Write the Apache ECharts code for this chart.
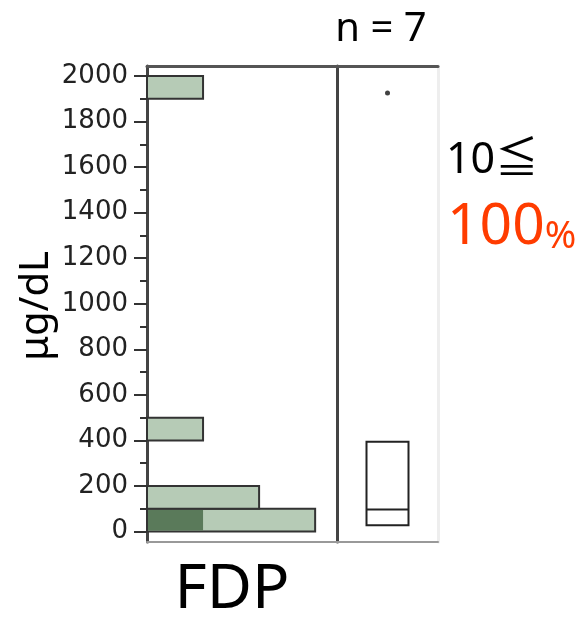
<!DOCTYPE html>
<html>
<head>
<meta charset="utf-8">
<script src="https://cdn.jsdelivr.net/npm/echarts@6/dist/echarts.min.js"></script>
<style>
  html, body { margin: 0; padding: 0; background: #fff; }
  #chart { width: 582px; height: 617px; }
</style>
</head>
<body>
<div id="chart"></div>
<script>
// histogram bins (µg/dL) and counts
const binLow = [0, 100, 400, 1900];
const binHigh = [100, 200, 500, 2000];
const binCount = [3, 2, 1, 1];
const binHighlight = [1, 0, 0, 0];

// box plot: [min, Q1, median, Q3, max] and outliers
const boxCategory = ['FDP'];
const boxStats = [28, 28, 97, 394, 394];
const outliers = [1925];

const majorTicks = [0, 200, 400, 600, 800, 1000, 1200, 1400, 1600, 1800, 2000];
const minorTicks = [100, 300, 500, 700, 900, 1100, 1300, 1500, 1700, 1900];

const yMin = -46;
const yMax = 2044;
const countMax = 3.39;

const lightGreen = '#b6cbb6';
const darkGreen = '#5a7a5a';

const chart = echarts.init(document.getElementById('chart'));

const histData = binLow.map((lo, i) => [lo, binHigh[i], binCount[i], binHighlight[i]]);

const renderBin = (params, api) => {
  const lo = api.value(0);
  const hi = api.value(1);
  const cnt = api.value(2);
  const hl = api.value(3);
  const p0 = api.coord([0, hi]);
  const p1 = api.coord([cnt, lo]);
  const children = [{
    type: 'rect',
    shape: { x: p0[0], y: p0[1], width: p1[0] - p0[0], height: p1[1] - p0[1] },
    style: { fill: lightGreen, stroke: '#333', lineWidth: 2 }
  }];
  if (hl > 0) {
    const h1 = api.coord([hl, lo]);
    children.push({
      type: 'rect',
      shape: { x: p0[0] + 1, y: p0[1] + 1, width: h1[0] - p0[0] - 1, height: h1[1] - p0[1] - 2 },
      style: { fill: darkGreen }
    });
  }
  return { type: 'group', children: children };
};

const hidden = { show: false };
const line = (color, width) => ({ show: true, onZero: false, lineStyle: { color: color, width: width } });

const option = {
  animation: false,
  grid: [
    { left: 147, top: 66, width: 190, height: 476 },
    { left: 337, top: 66, width: 101, height: 476 }
  ],
  xAxis: [
    { gridIndex: 0, type: 'value', min: 0, max: countMax, position: 'bottom',
      axisLine: line('#999', 2), axisTick: hidden, axisLabel: hidden, splitLine: hidden },
    { gridIndex: 0, type: 'value', min: 0, max: countMax, position: 'top',
      axisLine: line('#555', 3), axisTick: hidden, axisLabel: hidden, splitLine: hidden },
    { gridIndex: 1, type: 'category', data: boxCategory, position: 'bottom',
      axisLine: line('#999', 2), axisTick: hidden, axisLabel: hidden, splitLine: hidden },
    { gridIndex: 1, type: 'category', data: boxCategory, position: 'top',
      axisLine: line('#555', 3), axisTick: hidden, axisLabel: hidden, splitLine: hidden }
  ],
  yAxis: [
    { gridIndex: 0, type: 'value', min: yMin, max: yMax, position: 'left',
      axisLine: line('#444', 3),
      axisTick: { show: true, length: 13, customValues: majorTicks, lineStyle: { color: '#333', width: 2 } },
      axisLabel: { show: true, customValues: majorTicks, margin: 19, color: '#222',
        fontFamily: 'DejaVu Sans', fontSize: 26, formatter: v => String(v) },
      splitLine: hidden },
    { gridIndex: 0, type: 'value', min: yMin, max: yMax, position: 'left',
      axisLine: hidden,
      axisTick: { show: true, length: 7, customValues: minorTicks, lineStyle: { color: '#333', width: 2 } },
      axisLabel: hidden, splitLine: hidden },
    { gridIndex: 1, type: 'value', min: yMin, max: yMax, position: 'left',
      axisLine: line('#444', 3), axisTick: hidden, axisLabel: hidden, splitLine: hidden },
    { gridIndex: 1, type: 'value', min: yMin, max: yMax, position: 'right',
      axisLine: line('#eeeeee', 3), axisTick: hidden, axisLabel: hidden, splitLine: hidden }
  ],
  series: [
    {
      type: 'custom',
      xAxisIndex: 0,
      yAxisIndex: 0,
      renderItem: renderBin,
      data: histData,
      z: 3
    },
    {
      type: 'boxplot',
      xAxisIndex: 2,
      yAxisIndex: 2,
      boxWidth: [42, 42],
      data: [boxStats],
      itemStyle: { color: '#fff', borderColor: '#222', borderWidth: 2 },
      z: 3
    },
    {
      type: 'scatter',
      xAxisIndex: 2,
      yAxisIndex: 2,
      symbolSize: 5,
      data: outliers.map(v => [boxCategory[0], v]),
      itemStyle: { color: '#111' },
      z: 4
    }
  ],
  graphic: [
    { type: 'text', x: 37, y: 306, rotation: Math.PI / 2,
      style: { text: 'μg/dL', fontFamily: 'Noto Sans', fontSize: 40, fill: '#000',
        align: 'center', verticalAlign: 'middle' } },
    { type: 'text', x: 381, y: 30,
      style: { text: 'n = 7', fontFamily: 'Noto Sans', fontSize: 40, fill: '#000',
        align: 'center', verticalAlign: 'middle' } },
    { type: 'text', x: 446, y: 161,
      style: { text: '10≦', fontFamily: 'Noto Sans, Noto Sans CJK JP', fontSize: 43, fill: '#000',
        align: 'left', verticalAlign: 'middle' } },
    { type: 'text', x: 447, y: 228,
      style: {
        text: '{a|100}{b|%}',
        align: 'left', verticalAlign: 'middle',
        rich: {
          a: { fontFamily: 'Noto Sans', fontSize: 57, fill: '#ff3c00', color: '#ff3c00' },
          b: { fontFamily: 'Noto Sans', fontSize: 38, fill: '#ff3c00', color: '#ff3c00', verticalAlign: 'bottom' }
        }
      } },
    { type: 'text', x: 232, y: 590,
      style: { text: 'FDP', fontFamily: 'Noto Sans', fontSize: 62, fill: '#000',
        align: 'center', verticalAlign: 'middle' } }
  ]
};

chart.setOption(option);
</script>
</body>
</html>
